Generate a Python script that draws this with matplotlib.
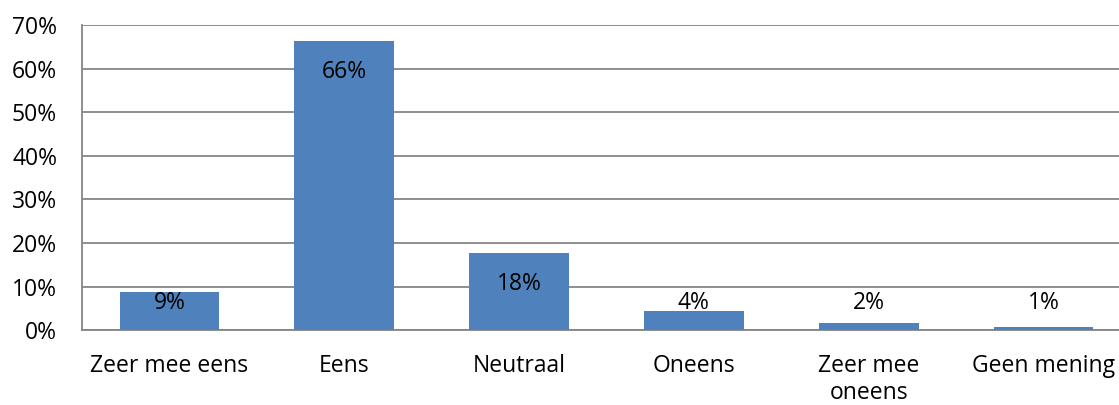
import matplotlib.pyplot as plt
import numpy as np
from matplotlib.ticker import PercentFormatter

# data
categories = ['Zeer mee eens', 'Eens', 'Neutraal', 'Oneens', 'Zeer mee\noneens', 'Geen mening']
values = [0.087, 0.663, 0.177, 0.044, 0.016, 0.008]
labels = ['9%', '66%', '18%', '4%', '2%', '1%']

plt.rcParams['font.family'] = ['Open Sans', 'DejaVu Sans']
plt.rcParams['font.size'] = 16.5

fig = plt.figure(figsize=(11.19, 4.05), dpi=100)
ax = fig.add_axes([0.0733, 0.185, 0.9374, 0.753])

x = np.arange(len(categories))
ax.bar(x, values, 0.57, color='#4F81BD', zorder=3)

for xi, v, lab in zip(x, values, labels):
    ax.text(xi, max(v - 0.071, 0.062), lab, ha='center', va='center', color='black', zorder=4)

ax.set_xlim(-0.5, len(categories) - 0.5)
ax.set_ylim(0, 0.7)
ax.set_yticks(np.arange(0, 0.71, 0.1))
ax.yaxis.set_major_formatter(PercentFormatter(1.0, decimals=0))
ax.set_xticks(x)
ax.set_xticklabels(categories, linespacing=1.2)
ax.tick_params(axis='both', length=0, colors='black')
ax.tick_params(axis='x', pad=17)
ax.tick_params(axis='y', pad=18)

ax.grid(axis='y', color='#868686', linewidth=1.3, zorder=0)
for s in ['top', 'right']:
    ax.spines[s].set_visible(False)
for s in ['left', 'bottom']:
    ax.spines[s].set_color('#868686')
    ax.spines[s].set_linewidth(1.3)

plt.savefig('out.png', dpi=100)
